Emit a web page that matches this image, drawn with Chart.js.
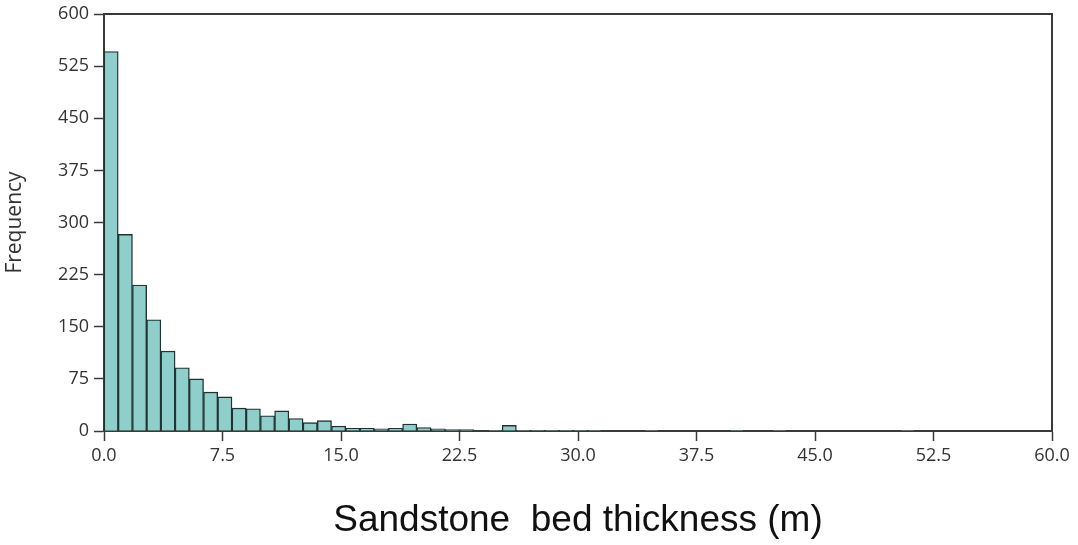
<!DOCTYPE html>
<html>
<head>
<meta charset="utf-8">
<script src="https://cdn.jsdelivr.net/npm/chart.js@4"></script>
<style>
html, body { margin: 0; padding: 0; background: #fff; }
</style>
</head>
<body>
<canvas id="hist" width="1078" height="545"></canvas>
<script>
// histogram bins, 0.9 m wide, starting at 0
const binWidth = 0.9;
const frequency = [
  546, 283, 210, 160, 115, 91, 75, 56, 49, 33,
  32, 22, 29, 18, 12, 15, 7, 4, 4, 3,
  4, 10, 5, 3, 2, 2, 0, 1, 8, 1,
  1, 1, 1, 1, 1, 0, 0, 0, 1, 0,
  0, 0, 0, 0, 1, 0, 0, 1, 0, 0,
  0, 0, 0, 0, 0, 0, 1, 0, 0, 0,
  0, 0, 0, 0, 0, 0, 0
];
const xTickValues = [0, 7.5, 15, 22.5, 30, 37.5, 45, 52.5, 60];
const yTickValues = [0, 75, 150, 225, 300, 375, 450, 525, 600];

const axisColor = "#3a3a3a";
const labelColor = "#333";

// top and right border of the plot box
const frameBox = {
  id: "frameBox",
  afterDraw(chart) {
    const { ctx, chartArea } = chart;
    ctx.save();
    ctx.strokeStyle = axisColor;
    ctx.lineWidth = 2;
    ctx.beginPath();
    ctx.moveTo(chartArea.left, chartArea.top);
    ctx.lineTo(chartArea.right, chartArea.top);
    ctx.lineTo(chartArea.right, chartArea.bottom);
    ctx.stroke();
    ctx.restore();
  }
};

const data = {
  datasets: [
    {
      label: "Frequency",
      data: frequency.map((v, i) => ({ x: (i + 0.5) * binWidth, y: v })),
      backgroundColor: "rgb(143,207,203)",
      borderColor: "rgb(34,50,50)",
      borderWidth: 1.4,
      barPercentage: 1,
      categoryPercentage: 1,
    },
  ],
};

const config = {
  type: "bar",
  data: data,
  options: {
    responsive: false,
    animation: false,
    devicePixelRatio: 1,
    layout: {
      padding: { top: 14, right: 26, bottom: 0, left: 0 }
    },
    plugins: {
      legend: { display: false },
      tooltip: { enabled: false },
    },
    scales: {
      x: {
        type: "linear",
        min: 0,
        max: 60,
        offset: false,
        afterBuildTicks: (s) => { s.ticks = xTickValues.map((v) => ({ value: v })); },
        afterFit: (s) => { s.height = 114; },
        grid: {
          offset: false,
          drawOnChartArea: false,
          drawTicks: true,
          tickLength: 10,
          tickColor: axisColor,
          tickWidth: 1.5,
        },
        border: { display: true, color: axisColor, width: 2 },
        ticks: {
          color: labelColor,
          autoSkip: false,
          maxRotation: 0,
          padding: 4,
          font: { family: "Open Sans", size: 18 },
          callback: (v) => Number(v).toFixed(1),
        },
        title: {
          display: true,
          text: "Sandstone  bed thickness (m)",
          color: "#111",
          font: { family: "Liberation Sans", size: 37 },
          padding: { top: 0, bottom: 2 },
        },
      },
      y: {
        min: 0,
        max: 600,
        afterBuildTicks: (s) => { s.ticks = yTickValues.map((v) => ({ value: v })); },
        afterFit: (s) => { s.width = 104; },
        grid: {
          drawOnChartArea: false,
          drawTicks: true,
          tickLength: 10,
          tickColor: axisColor,
          tickWidth: 1.5,
        },
        border: { display: true, color: axisColor, width: 2 },
        ticks: {
          color: labelColor,
          padding: 5,
          font: { family: "Open Sans", size: 18, lineHeight: 1 },
        },
        title: {
          display: true,
          text: "Frequency",
          color: labelColor,
          font: { family: "Open Sans", size: 21 },
          padding: { top: 2, bottom: 0 },
        },
      },
    },
  },
  plugins: [frameBox],
};

const histChart = new Chart(document.getElementById("hist").getContext("2d"), config);
</script>
</body>
</html>
